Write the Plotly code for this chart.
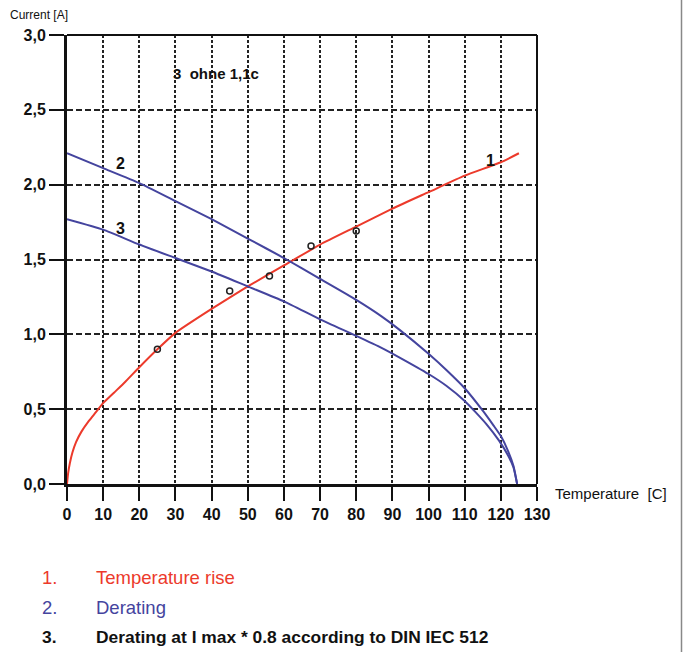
import plotly.graph_objects as go

# ---- data ----
temp_x = [0, 0.3, 0.8, 1.5, 2.5, 4, 6, 8, 10, 13, 16, 20, 25, 30, 40, 50, 60, 70, 80, 90, 100, 110, 120, 125]
temp_y = [0, 0.07, 0.14, 0.21, 0.28, 0.35, 0.42, 0.48, 0.54, 0.61, 0.68, 0.78, 0.90, 1.01, 1.17, 1.32, 1.46, 1.60, 1.72, 1.84, 1.95, 2.06, 2.15, 2.21]

derate_x = [0, 10, 20, 30, 40, 50, 60, 70, 80, 87, 92, 100, 105, 110, 115, 118, 120, 122, 123.5, 124.5]
derate_y = [2.21, 2.11, 2.01, 1.89, 1.77, 1.64, 1.51, 1.37, 1.23, 1.12, 1.03, 0.87, 0.76, 0.64, 0.49, 0.39, 0.32, 0.22, 0.12, 0.0]

derate08_x = [0, 10, 20, 30, 40, 50, 60, 70, 80, 87, 92, 100, 105, 110, 113, 116, 119.5, 122, 123.5, 124.5]
derate08_y = [1.77, 1.70, 1.60, 1.51, 1.42, 1.32, 1.22, 1.10, 0.99, 0.91, 0.845, 0.735, 0.655, 0.555, 0.48, 0.40, 0.29, 0.19, 0.11, 0.0]

meas_x = [25, 45, 56, 67.5, 80]
meas_y = [0.90, 1.29, 1.39, 1.59, 1.69]

x_ticks = [0, 10, 20, 30, 40, 50, 60, 70, 80, 90, 100, 110, 120, 130]
y_ticks = [0.0, 0.5, 1.0, 1.5, 2.0, 2.5, 3.0]
y_tick_labels = ["0,0", "0,5", "1,0", "1,5", "2,0", "2,5", "3,0"]

curve_labels = ["1", "2", "3"]
curve_label_x = [117, 14.7, 14.7]
curve_label_y = [2.16, 2.14, 1.71]

legend_nums = ["1.", "2.", "3."]
legend_texts = ["Temperature rise", "Derating", "Derating at I max * 0.8 according to DIN IEC 512"]

RED = "#ec3a2b"
BLUE = "#44449e"
FONT = "Liberation Sans, Arial, sans-serif"

W, H = 683, 652
L, R, T, B = 67, 537, 35, 484  # plot area in pixels

fig = go.Figure()
fig.add_trace(go.Scatter(x=temp_x, y=temp_y, mode="lines", line=dict(color=RED, width=2, shape="spline", smoothing=0.5), hoverinfo="skip"))
fig.add_trace(go.Scatter(x=derate_x, y=derate_y, mode="lines", line=dict(color=BLUE, width=2, shape="spline", smoothing=0.5), hoverinfo="skip"))
fig.add_trace(go.Scatter(x=derate08_x, y=derate08_y, mode="lines", line=dict(color=BLUE, width=2, shape="spline", smoothing=0.5), hoverinfo="skip"))
fig.add_trace(go.Scatter(x=meas_x, y=meas_y, mode="markers",
                         marker=dict(symbol="circle-open", size=6, color="#222", line=dict(width=1.5)), hoverinfo="skip"))

# curve number labels
for t, cx, cy in zip(curve_labels, curve_label_x, curve_label_y):
    fig.add_annotation(x=cx, y=cy, text="<b>%s</b>" % t, showarrow=False,
                       font=dict(family=FONT, size=16, color="#111"))

fig.add_annotation(x=41.3, y=2.74, text="<b>3  ohne 1,1c</b>", showarrow=False,
                   font=dict(family=FONT, size=15, color="#111"))

def px2paper_x(px):
    return (px - L) / (R - L)

def px2paper_y(py):
    return (B - py) / (B - T)

# axis titles
fig.add_annotation(xref="paper", yref="paper", x=px2paper_x(8), y=px2paper_y(15), xanchor="left", yanchor="middle",
                   text="Current [A]", showarrow=False, font=dict(family=FONT, size=12, color="#111"))
fig.add_annotation(xref="paper", yref="paper", x=px2paper_x(553), y=px2paper_y(493), xanchor="left", yanchor="middle",
                   text="Temperature  [C]", showarrow=False, font=dict(family=FONT, size=15, color="#111"))

# legend text block
leg_colors = [RED, BLUE, "#111"]
leg_sizes = [18.5, 18.5, 17.4]
leg_y = [577, 607, 637]
for num, txt, col, sz, py in zip(legend_nums, legend_texts, leg_colors, leg_sizes, leg_y):
    bold = col == "#111"
    fig.add_annotation(xref="paper", yref="paper", x=px2paper_x(40), y=px2paper_y(py), xanchor="left", yanchor="middle",
                       text=("<b>%s</b>" % num) if bold else num, showarrow=False,
                       font=dict(family=FONT, size=sz, color=col))
    fig.add_annotation(xref="paper", yref="paper", x=px2paper_x(94), y=px2paper_y(py), xanchor="left", yanchor="middle",
                       text=("<b>%s</b>" % txt) if bold else txt, showarrow=False,
                       font=dict(family=FONT, size=sz, color=col))

# top and right border
fig.add_shape(type="line", xref="paper", yref="paper", x0=0, x1=1, y0=1, y1=1, line=dict(color="#111", width=2))
fig.add_shape(type="line", xref="paper", yref="paper", x0=1, x1=1, y0=0, y1=1, line=dict(color="#111", width=2))
# page edge line on the right
fig.add_shape(type="line", xref="paper", yref="paper", x0=px2paper_x(681.5), x1=px2paper_x(681.5),
              y0=px2paper_y(H), y1=px2paper_y(0), line=dict(color="#888", width=1.5))

fig.update_xaxes(range=[0, 130], tickvals=x_ticks, ticks="outside", ticklen=14, tickwidth=2, tickcolor="#111",
                 showline=True, linewidth=3, linecolor="#111", zeroline=False,
                 showgrid=True, gridcolor="#222", gridwidth=2, griddash="3px,2px",
                 tickfont=dict(family=FONT, size=16, color="#111", weight="bold"))
fig.update_yaxes(range=[0, 3], tickvals=y_ticks, ticktext=y_tick_labels, ticks="outside", ticklen=15, tickwidth=2,
                 tickcolor="#111", showline=True, linewidth=3, linecolor="#111", zeroline=False,
                 showgrid=True, gridcolor="#222", gridwidth=2, griddash="6px,3px",
                 tickfont=dict(family=FONT, size=16, color="#111", weight="bold"))

fig.update_layout(width=W, height=H, margin=dict(l=L, r=W - R, t=T, b=H - B, pad=0),
                  paper_bgcolor="white", plot_bgcolor="white", showlegend=False)

fig.write_html("out.html", config={"displayModeBar": False},
               post_script="document.body.style.margin='0';document.body.style.overflow='hidden';")
